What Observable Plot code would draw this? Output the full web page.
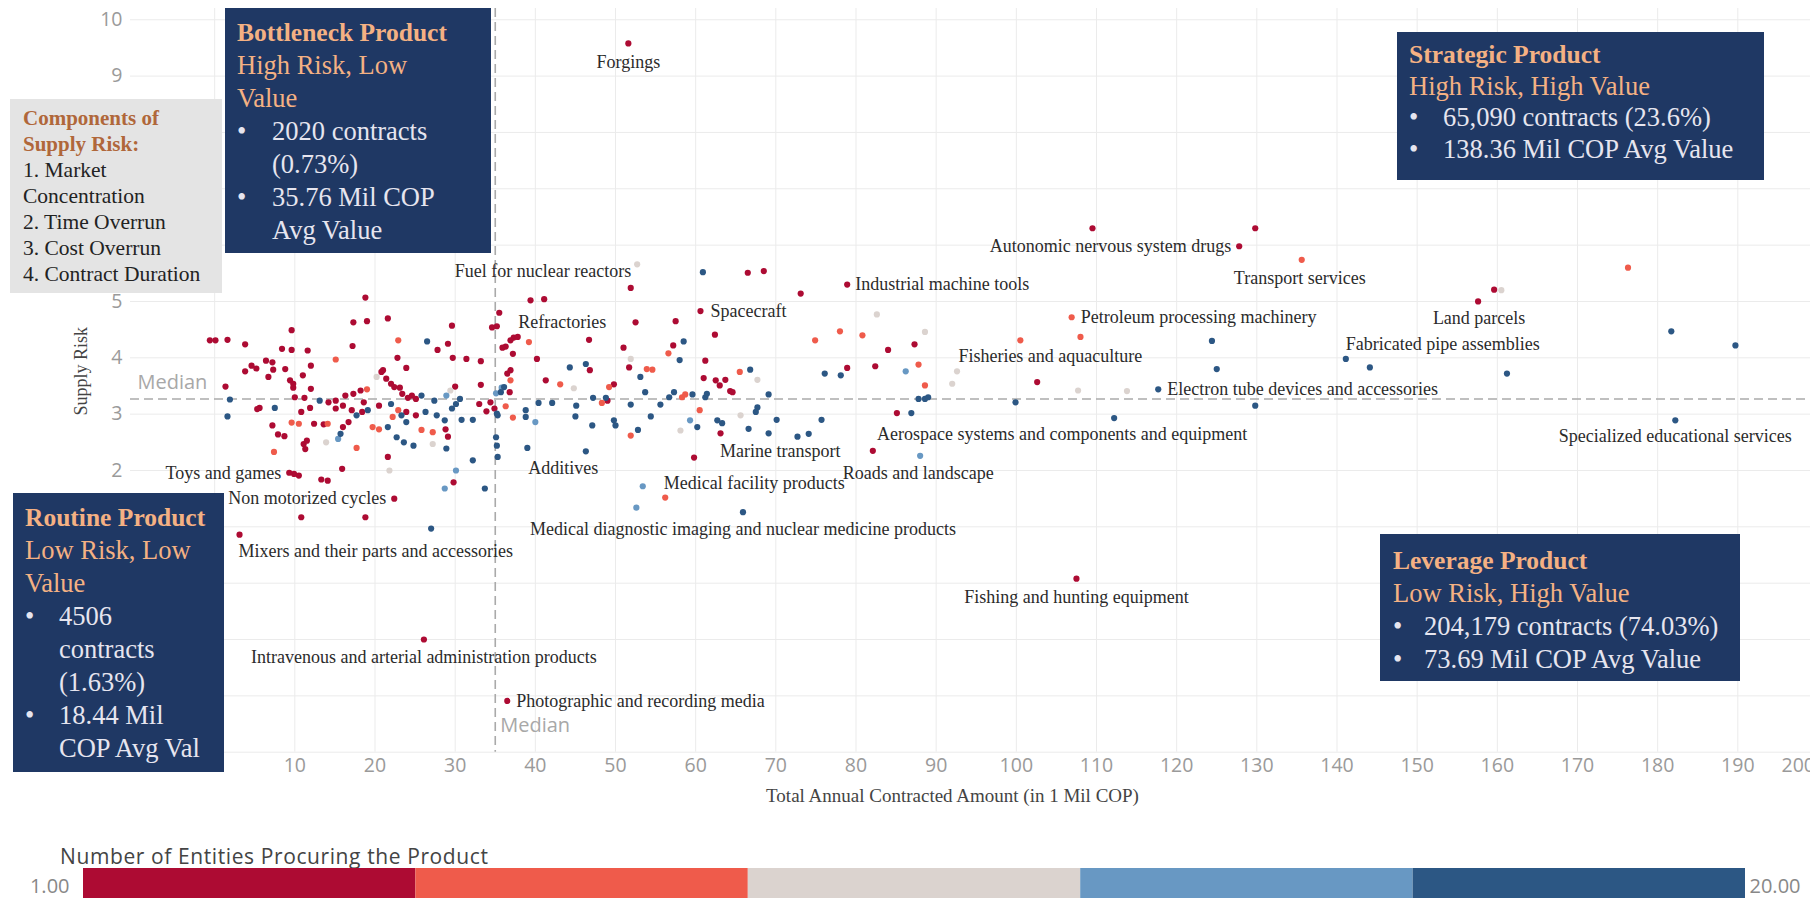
<!DOCTYPE html>
<html><head><meta charset="utf-8">
<script src="https://cdn.jsdelivr.net/npm/d3@7"></script>
<script src="https://cdn.jsdelivr.net/npm/@observablehq/plot@0.6"></script>
<style>
html,body{margin:0;padding:0;background:#fff;overflow:hidden;}
#wrap{position:relative;width:1810px;height:898px;overflow:hidden;}
#chart svg{display:block;}
.box{position:absolute;background:#1f3864;color:#e6e5ef;font-family:"Liberation Serif",serif;font-size:26.5px;line-height:33px;box-sizing:border-box;white-space:nowrap;}
.box .t{font-weight:bold;color:#f4b183;font-size:25.5px;}
.box .s{color:#f4b183;}
.bl{display:flex;}
.bl .b{flex:none;}
#comp{position:absolute;left:10px;top:99px;width:212px;height:194px;background:#e4e4e4;box-sizing:border-box;padding:6px 0 0 13px;font-family:"Liberation Serif",serif;font-size:21.5px;line-height:26px;color:#222;white-space:nowrap;}
#comp .t{font-weight:bold;color:#b0673a;font-size:21px;}
#legtitle{position:absolute;left:60px;top:845px;font-family:"Open Sans",sans-serif;font-size:21px;letter-spacing:0.6px;line-height:22px;color:#444;}
#legend{position:absolute;left:0;top:868px;}
</style>
</head><body>
<div id="wrap">
  <div id="chart"></div>
  <div id="comp"><div class="t">Components of<br>Supply Risk:</div>1. Market<br>Concentration<br>2. Time Overrun<br>3. Cost Overrun<br>4. Contract Duration</div>
  <div class="box" style="left:225px;top:8px;width:266px;height:245px;padding:7.5px 0 0 12px;">
    <div class="t">Bottleneck Product</div>
    <div class="s">High Risk, Low<br>Value</div>
    <div class="bl"><span class="b" style="width:35px">•</span><span>2020 contracts<br>(0.73%)</span></div>
    <div class="bl"><span class="b" style="width:35px">•</span><span>35.76 Mil COP<br>Avg Value</span></div>
  </div>
  <div class="box" style="left:13px;top:493px;width:211px;height:279px;padding:7.5px 0 0 12px;">
    <div class="t">Routine Product</div>
    <div class="s">Low Risk, Low<br>Value</div>
    <div class="bl"><span class="b" style="width:34px">•</span><span>4506<br>contracts<br>(1.63%)</span></div>
    <div class="bl"><span class="b" style="width:34px">•</span><span>18.44 Mil<br>COP Avg Val</span></div>
  </div>
  <div class="box" style="left:1397px;top:32px;width:367px;height:148px;padding:7px 0 0 12px;line-height:31.5px;">
    <div class="t">Strategic Product</div>
    <div class="s">High Risk, High Value</div>
    <div class="bl"><span class="b" style="width:34px">•</span><span>65,090 contracts (23.6%)</span></div>
    <div class="bl"><span class="b" style="width:34px">•</span><span>138.36 Mil COP Avg Value</span></div>
  </div>
  <div class="box" style="left:1380px;top:534px;width:360px;height:147px;padding:9.5px 0 0 13px;">
    <div class="t">Leverage Product</div>
    <div class="s">Low Risk, High Value</div>
    <div class="bl"><span class="b" style="width:31px">•</span><span>204,179 contracts (74.03%)</span></div>
    <div class="bl"><span class="b" style="width:31px">•</span><span>73.69 Mil COP Avg Value</span></div>
  </div>
  <div id="legtitle">Number of Entities Procuring the Product</div>
  <div id="legend"></div>
</div>
<script>
// ---------- DATA ----------
// Legend: number of entities procuring the product (stepped, 5 bins from 1 to 20)
const legendRange = [1, 20];
const legendBreaks = [4.8, 8.6, 12.4, 16.2];
const legendColors = ["#ad0b33", "#ef5b4b", "#dbd3cf", "#6898c3", "#2c5784"];
// representative entity count for each legend bin
const classEntities = [2, 6, 10, 14, 18];

// Medians
const medianAmount = 35.0;  // Total annual contracted amount (Mil COP)
const medianRisk = 3.27;    // Supply risk

// Axis ticks (labels that the reference leaves visible)
const xTicks = [10,20,30,40,50,60,70,80,90,100,110,120,130,140,150,160,170,180,190];
const xLastTick = [200];
const xGrid = [0,10,20,30,40,50,60,70,80,90,100,110,120,130,140,150,160,170,180,190,200];
const yTickLabels = [2,3,4,5,9,10];
const yGrid = [-3,-2,-1,0,1,2,3,4,5,6,7,8,9,10];

// Unlabelled products: [amount, supply risk], one list per entity bin
const darkRedPoints = [[18.8,5.07],[21.6,4.70],[17.3,4.63],[19.0,4.65],[9.6,4.49],[-0.6,4.31],[0.1,4.31],[1.6,4.32],[3.8,4.24],[8.4,4.16],[9.6,4.14],[11.6,4.13],[17.2,4.21],[29.6,4.57],[27.8,4.14],[29.1,4.25],[29.7,4.00],[31.4,3.98],[33.2,3.94],[34.6,4.54],[35.2,4.56],[22.8,4.00],[23.9,3.82],[21.0,3.78],[3.8,3.76],[4.6,3.86],[5.2,3.81],[6.4,3.95],[7.2,3.92],[7.3,3.79],[8.8,3.80],[11.0,3.69],[12.0,3.86],[6.7,3.66],[9.4,3.60],[9.8,3.54],[20.8,3.75],[21.4,3.63],[22.0,3.54],[22.4,3.48],[23.1,3.47],[30.0,3.49],[33.2,3.52],[18.2,3.42],[17.3,3.36],[16.3,3.33],[15.1,3.24],[14.2,3.21],[9.8,3.47],[10.0,3.30],[11.2,3.29],[12.0,3.45],[5.6,3.11],[5.3,3.09],[24.1,3.29],[24.6,3.33],[23.4,3.36],[25.1,3.27],[33.0,3.18],[34.4,3.21],[10.8,3.04],[11.9,3.11],[18.6,3.21],[15.1,3.10],[16.0,3.15],[17.1,3.07],[18.4,3.04],[20.5,3.15],[23.9,3.04],[25.1,2.98],[33.9,3.05],[34.9,3.10],[12.4,2.83],[13.6,2.82],[16.0,2.77],[16.7,2.86],[7.2,2.80],[7.9,2.64],[8.7,2.61],[28.8,2.73],[29.1,2.60],[11.1,2.47],[11.3,2.38],[11.5,2.53],[21.6,2.24],[29.8,1.79],[18.8,1.17],[10.8,1.17],[15.9,2.03],[13.3,1.84],[14.1,1.82],[9.9,1.94],[10.5,1.91],[1.35,3.49],[66.5,5.51],[68.5,5.54],[51.9,5.24],[73.1,5.14],[39.4,5.02],[41.1,5.04],[52.5,4.63],[57.5,4.65],[62.4,4.41],[84.0,4.14],[37.3,4.36],[37.8,4.37],[36.9,4.31],[36.3,4.20],[35.9,4.18],[37.2,4.07],[40.2,3.98],[46.7,4.32],[51.0,4.18],[57.2,4.22],[61.2,3.95],[46.8,3.78],[51.7,3.83],[61.0,3.64],[62.5,3.60],[63.0,3.51],[63.7,3.61],[64.3,3.41],[64.6,3.39],[78.9,3.82],[82.4,3.85],[85.1,3.02],[41.3,3.60],[36.5,3.72],[36.9,3.78],[36.8,3.39],[49.0,3.24],[49.8,3.53],[63.1,2.66],[87.3,4.24],[109.5,6.30],[129.8,6.30],[159.6,5.21],[102.6,3.57]];
const salmonPoints = [[22.9,4.31],[15.1,3.97],[19.0,3.44],[22.9,3.07],[22.2,2.95],[37.2,2.94],[14.1,2.83],[10.5,2.83],[9.6,2.85],[19.7,2.77],[20.5,2.73],[25.8,2.72],[27.2,2.68],[17.7,2.40],[7.4,2.33],[36.3,3.14],[74.9,4.31],[78.0,4.47],[80.8,4.40],[39.2,4.28],[56.6,4.08],[53.9,3.80],[54.6,3.79],[65.5,3.75],[43.1,3.53],[36.9,3.60],[48.3,3.20],[49.2,3.48],[58.3,3.30],[58.7,3.35],[51.9,2.62],[60.5,3.07],[56.2,1.52],[87.8,3.88],[88.6,3.51],[108.0,4.37],[176.3,5.60]];
const greyPoints = [[20.2,3.66],[29.4,3.42],[27.2,2.47],[13.9,2.50],[21.8,2.00],[82.6,4.77],[51.9,3.98],[67.7,3.61],[44.8,3.46],[58.1,2.71],[65.6,2.98],[88.6,4.46],[92.6,3.76],[92.0,3.54],[160.5,5.20],[107.7,3.42],[113.8,3.41]];
const lightBluePoints = [[28.9,3.33],[15.4,2.56],[30.1,2.00],[28.7,1.68],[35.8,3.47],[35.1,3.37],[40.0,2.86],[59.3,2.89],[86.2,3.76],[88.0,2.26],[52.6,1.34]];
const darkBluePoints = [[26.5,4.29],[1.9,3.26],[1.6,2.96],[13.1,3.24],[7.5,3.11],[25.8,3.33],[27.4,3.24],[30.6,3.27],[30.1,3.18],[29.6,3.10],[17.7,2.98],[19.1,3.07],[22.0,3.18],[23.3,2.98],[26.3,3.04],[27.7,2.98],[28.7,2.89],[30.8,2.90],[32.2,2.90],[35.3,2.98],[15.7,2.65],[21.6,2.77],[23.9,2.86],[22.7,2.59],[23.6,2.50],[24.8,2.44],[28.9,2.39],[35.1,2.59],[35.2,2.44],[35.3,2.24],[32.2,2.18],[33.7,1.68],[27.0,0.97],[60.9,5.52],[58.5,4.29],[58.0,3.96],[44.3,3.83],[46.3,3.89],[53.1,3.66],[66.8,3.79],[76.1,3.72],[78.1,3.69],[36.1,3.48],[35.7,3.39],[40.4,3.20],[42.1,3.20],[47.2,3.29],[48.8,3.29],[45.1,3.15],[51.9,3.17],[53.7,3.39],[55.6,3.17],[56.7,3.30],[57.3,3.39],[59.6,3.35],[61.2,3.30],[61.4,3.36],[69.1,3.35],[67.7,3.12],[67.5,3.04],[38.8,3.07],[38.8,2.95],[35.2,3.01],[45.0,2.96],[47.1,2.80],[49.8,2.89],[50.0,2.80],[52.8,2.72],[54.4,2.96],[60.2,2.77],[62.7,2.89],[63.3,2.84],[66.6,2.74],[69.1,2.66],[70.1,2.90],[72.7,2.60],[74.1,2.65],[75.7,2.90],[46.3,2.34],[87.8,3.27],[88.6,3.27],[89.0,3.30],[86.9,3.02],[99.9,3.21],[124.4,4.30],[125.0,3.80],[181.7,4.47],[189.7,4.22],[144.1,3.83],[161.2,3.72],[129.8,3.15]];

// Labelled products
const labelNames = ["Forgings","Autonomic nervous system drugs","Transport services","Industrial machine tools","Fuel for nuclear reactors","Land parcels","Refractories","Spacecraft","Petroleum processing machinery","Fabricated pipe assemblies","Fisheries and aquaculture","Electron tube devices and accessories","Aerospace systems and components and equipment","Specialized educational services","Marine transport","Roads and landscape","Additives","Medical facility products","Toys and games","Non motorized cycles","Medical diagnostic imaging and nuclear medicine products","Mixers and their parts and accessories","Fishing and hunting equipment","Intravenous and arterial administration products","Photographic and recording media"];
const labelAmount = [51.6,127.8,135.6,78.9,52.7,157.6,35.5,60.6,106.9,141.1,100.5,117.7,112.2,182.2,59.8,82.1,39.0,53.4,9.3,22.4,65.9,3.1,107.5,26.1,36.5];
const labelRisk = [9.58,5.98,5.74,5.30,5.66,5.00,4.80,4.83,4.72,3.98,4.31,3.44,2.93,2.89,2.23,2.35,2.40,1.72,1.96,1.50,1.26,0.86,0.08,-1.0,-2.09];
const labelEntities = [2,2,6,2,10,2,2,2,6,18,6,18,18,18,2,2,18,14,2,2,18,2,2,2,2];

// ---------- STYLE (label placement relative to its dot: anchor, dx, dy) ----------
const labelPlacement = {
  "Forgings": ["middle", 0, 19],
  "Autonomic nervous system drugs": ["end", -8, 0],
  "Transport services": ["middle", -2, 18],
  "Industrial machine tools": ["start", 8, 0],
  "Fuel for nuclear reactors": ["end", -6, 7],
  "Land parcels": ["middle", 1, 17],
  "Refractories": ["start", 19, 9],
  "Spacecraft": ["start", 10, 0],
  "Petroleum processing machinery": ["start", 9, 0],
  "Fabricated pipe assemblies": ["start", 0, -15],
  "Fisheries and aquaculture": ["middle", 30, 16],
  "Electron tube devices and accessories": ["start", 9, 0],
  "Aerospace systems and components and equipment": ["middle", -52, 16],
  "Specialized educational services": ["middle", 0, 16],
  "Marine transport": ["start", 26, -6],
  "Roads and landscape": ["start", -30, 22],
  "Additives": ["start", 1, 20],
  "Medical facility products": ["start", 21, -3],
  "Toys and games": ["end", -8, 0],
  "Non motorized cycles": ["end", -8, 0],
  "Medical diagnostic imaging and nuclear medicine products": ["middle", 0, 17],
  "Mixers and their parts and accessories": ["start", -1, 17],
  "Fishing and hunting equipment": ["middle", 0, 19],
  "Intravenous and arterial administration products": ["middle", 0, 18],
  "Photographic and recording media": ["start", 9, 0]
};

// ---------- BUILD ----------
const classes = [darkRedPoints, salmonPoints, greyPoints, lightBluePoints, darkBluePoints];
const points = classes.flatMap((arr, i) => arr.map(([a, r]) => ({amount: a, risk: r, entities: classEntities[i]})));
const labelled = labelNames.map((n, i) => ({name: n, amount: labelAmount[i], risk: labelRisk[i], entities: labelEntities[i]}));

const W = 1810, H = 820, plotBottom = 751.7;
const sans = "'Open Sans', sans-serif";
const serif = "'Liberation Serif', serif";
const colorScale = {type: "threshold", domain: legendBreaks, range: legendColors};

const labelMarks = labelled.map(p => {
  const [anchor, dx, dy] = labelPlacement[p.name];
  return Plot.text([p], {x: "amount", y: "risk", text: "name", textAnchor: anchor, dx, dy,
    fontFamily: serif, fontSize: 18, fill: "#2b2b2b"});
});

const chart = Plot.plot({
  width: W, height: H,
  marginTop: 8, marginBottom: H - plotBottom, marginLeft: 130, marginRight: 0,
  x: {domain: [-10.5, 200], range: [130, 1817.5]},
  y: {domain: [-3.0, 10.2]},
  color: colorScale,
  style: {background: "transparent", overflow: "visible"},
  marks: [
    Plot.gridX(xGrid, {stroke: "#ebebeb", strokeOpacity: 1}),
    Plot.gridY(yGrid, {stroke: "#ebebeb", strokeOpacity: 1}),
    Plot.ruleY([medianRisk], {stroke: "#aaa", strokeWidth: 1.6, strokeDasharray: "9,5"}),
    Plot.ruleX([medianAmount], {stroke: "#aaa", strokeWidth: 1.6, strokeDasharray: "9,5"}),
    Plot.dot(points, {x: "amount", y: "risk", fill: "entities", r: 3.1}),
    Plot.dot(labelled, {x: "amount", y: "risk", fill: "entities", r: 3.1}),
    ...labelMarks,
    Plot.axisX(xTicks, {tickSize: 0, tickPadding: 6, fontSize: 19.5, fontFamily: sans, color: "#9a9a9a", label: null}),
    Plot.axisX(xLastTick, {tickSize: 0, tickPadding: 6, fontSize: 19.5, fontFamily: sans, color: "#9a9a9a", label: null, textAnchor: "end", dx: -3}),
    Plot.axisY(yTickLabels, {tickSize: 0, tickPadding: 8, fontSize: 19.5, fontFamily: sans, color: "#9a9a9a", label: null, tickFormat: d => String(d)}),
    Plot.text(["Supply Risk"], {frameAnchor: "left", textAnchor: "middle", lineAnchor: "middle", dx: -49, dy: -9, rotate: -90, fontFamily: serif, fontSize: 18, fill: "#444"}),
    Plot.text(["Total Annual Contracted Amount (in 1 Mil COP)"], {frameAnchor: "bottom", textAnchor: "middle", lineAnchor: "middle", dx: -18, dy: 44, fontFamily: serif, fontSize: 19, fill: "#444"}),
    Plot.text([medianRisk], {y: d => d, frameAnchor: "left", text: () => "Median", dx: 7, dy: -16, textAnchor: "start", lineAnchor: "middle", fontFamily: sans, fontSize: 20, fill: "#a8a8a8"}),
    Plot.text([medianAmount], {x: d => d, frameAnchor: "bottom", text: () => "Median", dx: 5, dy: -27, textAnchor: "start", lineAnchor: "middle", fontFamily: sans, fontSize: 20, fill: "#a8a8a8"})
  ]
});
document.getElementById("chart").append(chart);

// Legend bar
const edges = [legendRange[0], ...legendBreaks, legendRange[1]];
const bins = d3.pairs(edges).map(([lo, hi]) => ({lo, hi, mid: (lo + hi) / 2}));
const legend = Plot.plot({
  width: W, height: 30,
  marginTop: 0, marginBottom: 0, marginLeft: 83, marginRight: 65,
  x: {domain: legendRange, axis: null},
  y: {axis: null},
  color: colorScale,
  style: {background: "transparent", overflow: "visible"},
  marks: [
    Plot.rectX(bins, {x1: "lo", x2: "hi", fill: "mid"}),
    Plot.text([legendRange[0]], {x: d => d, text: d => d.toFixed(2), textAnchor: "end", dx: -14, dy: 3, fontFamily: sans, fontSize: 20, fill: "#888"}),
    Plot.text([legendRange[1]], {x: d => d, text: d => d.toFixed(2), textAnchor: "start", dx: 4, dy: 3, fontFamily: sans, fontSize: 20, fill: "#888"})
  ]
});
document.getElementById("legend").append(legend);
</script>
</body></html>
